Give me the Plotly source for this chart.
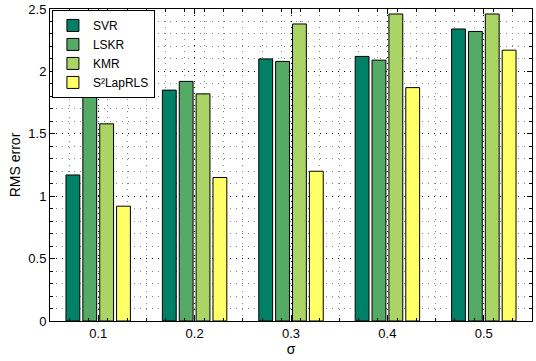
import plotly.graph_objects as go

sigma = [0.1, 0.2, 0.3, 0.4, 0.5]
tick_labels = ["0.1", "0.2", "0.3", "0.4", "0.5"]
svr = [1.17, 1.85, 2.10, 2.12, 2.34]
lskr = [1.81, 1.92, 2.08, 2.09, 2.32]
kmr = [1.58, 1.82, 2.38, 2.46, 2.46]
s2lap = [0.92, 1.15, 1.20, 1.87, 2.17]

series = [
    ("SVR", svr, "#008066"),
    ("LSKR", lskr, "#55AA66"),
    ("KMR", kmr, "#AAD466"),
    ("S²LapRLS", s2lap, "#FFFF66"),
]

fig = go.Figure()
for name, vals, col in series:
    fig.add_trace(go.Bar(
        x=sigma, y=vals, name=name,
        marker=dict(color=col, line=dict(color="black", width=1)),
    ))

font_family = "Liberation Sans"
grid_major = dict(showgrid=True, gridcolor="#000", griddash="1px,5px", gridwidth=1)
fig.update_layout(
    width=536, height=361,
    margin=dict(l=50, r=4, t=9, b=40),
    paper_bgcolor="white", plot_bgcolor="white",
    barmode="group", bargap=0.3, bargroupgap=0.18,
    font=dict(family=font_family, size=13, color="black"),
    showlegend=True,
    legend=dict(
        x=0.004, y=0.997, xanchor="left", yanchor="top",
        bgcolor="white", bordercolor="black", borderwidth=1,
        font=dict(size=12), tracegroupgap=0, itemwidth=30,
    ),
    xaxis=dict(
        range=[0.05, 0.55], tickvals=sigma, ticktext=tick_labels,
        ticks="inside", ticklen=5, tickcolor="black",
        showline=True, linecolor="black", linewidth=1, mirror="ticks",
        **grid_major,
        minor=dict(dtick=0.02, tick0=0.05, showgrid=True, gridcolor="#888",
                   griddash="1px,5px", ticks="inside", ticklen=3, tickcolor="black"),
        zeroline=False, automargin=False,
        tickfont=dict(size=13),
        title=dict(text="σ", standoff=2, font=dict(size=14)),
    ),
    yaxis=dict(
        range=[0, 2.5], dtick=0.5,
        ticks="inside", ticklen=5, tickcolor="black",
        showline=True, linecolor="black", linewidth=1, mirror="ticks",
        **grid_major,
        minor=dict(dtick=0.1, showgrid=True, gridcolor="#888",
                   griddash="1px,5px", ticks="inside", ticklen=3, tickcolor="black"),
        zeroline=False, automargin=False,
        tickfont=dict(size=13), ticklabelstandoff=0,
        title=dict(text="RMS error", standoff=4, font=dict(size=14)),
    ),
)

fig.write_html("out.html", config={"displayModeBar": False},
               post_script="document.body.style.margin='0';document.body.style.overflow='hidden';")
